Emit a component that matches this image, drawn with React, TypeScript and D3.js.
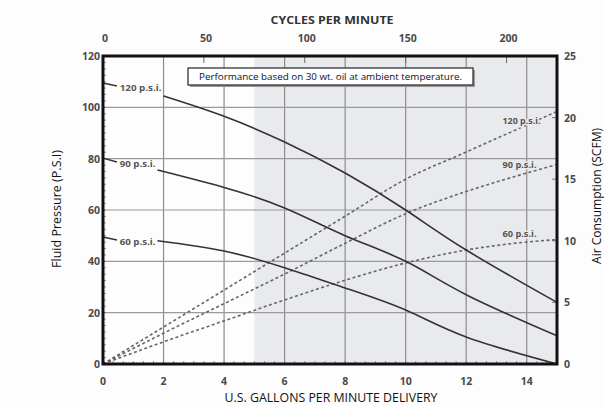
import React from 'react';
import * as d3 from 'd3';

// axis ticks
const gpmTicks = [0, 2, 4, 6, 8, 10, 12, 14];
const psiTicks = [0, 20, 40, 60, 80, 100, 120];
const scfmTicks = [0, 5, 10, 15, 20, 25];
const cycleTicks = [0, 50, 100, 150, 200];

// fluid pressure curves (solid)
const curveLabels = ['120 p.s.i.', '90 p.s.i.', '60 p.s.i.'];
const psi120Gpm = [2.0, 4, 6, 8, 10, 12, 15];
const psi120 = [104.4, 96.5, 86.5, 74.4, 60, 44.4, 24];
const psi90Gpm = [1.8, 4, 6, 8, 10, 12, 15];
const psi90 = [75.6, 68.8, 60.8, 50, 40, 27, 11];
const psi60Gpm = [1.8, 4, 6, 8, 10, 12, 15];
const psi60 = [48, 44, 37.5, 29.6, 21, 10.5, 0];
// short leader from the axis to each label
const leaderGpm = [0, 0.46];
const leader120 = [109.5, 108.3];
const leader90 = [80.2, 78.7];
const leader60 = [49.5, 48.3];

// air consumption (dotted), right axis
const airGpm = [0, 2, 4, 6, 8, 10, 12, 14, 15];
const air120 = [0, 3, 6, 9, 12, 15, 17.2, 19.4, 20.5];
const air90 = [0, 2.5, 4.9, 7.3, 9.8, 12.2, 14, 15.5, 16.2];
const air60 = [0, 1.8, 3.5, 5.2, 6.8, 8.2, 9.25, 9.9, 10.1];

const W = 605;
const H = 406;
const m = { left: 103, right: 557, top: 56, bottom: 364 };

export default function App() {
  const x = d3.scaleLinear().domain([0, 15]).range([m.left, m.right]);
  const yL = d3.scaleLinear().domain([0, 120]).range([m.bottom, m.top]);
  const yR = d3.scaleLinear().domain([0, 25]).range([m.bottom, m.top]);
  const xc = d3.scaleLinear().domain([0, 225]).range([m.left, m.right]);

  const psiLine = (g: number[], v: number[]) =>
    d3.line<number>().x((_, i) => x(g[i])).y(d => yL(d)).curve(d3.curveNatural)(v) || '';
  const airLine = (v: number[]) =>
    d3.line<number>().x((_, i) => x(airGpm[i])).y(d => yR(d)).curve(d3.curveMonotoneX)(v) || '';

  const solids = [
    { g: psi120Gpm, v: psi120, lead: leader120 },
    { g: psi90Gpm, v: psi90, lead: leader90 },
    { g: psi60Gpm, v: psi60, lead: leader60 },
  ];
  const airs = [air120, air90, air60];

  const tickFont = { fontFamily: '"Open Sans", sans-serif', fontWeight: 700, fontSize: 10.5, fill: '#4a4a4a' };
  const bottomMinor = d3.range(0, 226, 5);
  const leftMinor = d3.range(0, 121, 2.5);

  return (
    <svg width={W} height={H} style={{ position: 'absolute', left: 0, top: 0, background: '#fdfdfd' }}>
      {/* shaded region */}
      <rect x={x(5)} y={m.top} width={x(15) - x(5)} height={m.bottom - m.top} fill="#e9eaed" />

      {/* grid */}
      {gpmTicks.slice(1).map(t => (
        <line key={'gx' + t} x1={x(t)} x2={x(t)} y1={m.top} y2={m.bottom} stroke="#8c8c8c" strokeWidth={1.2} />
      ))}
      {psiTicks.slice(1, -1).map(t => (
        <line key={'gy' + t} x1={m.left} x2={m.right} y1={yL(t)} y2={yL(t)} stroke="#9a9a9a" strokeWidth={1.2} />
      ))}

      {/* minor ticks */}
      {bottomMinor.map(c => (
        <line key={'bm' + c} x1={xc(c)} x2={xc(c)} y1={m.bottom} y2={m.bottom - 3} stroke="#777" strokeWidth={0.8} />
      ))}
      {leftMinor.map(p => (
        <line key={'lm' + p} x1={m.left} x2={m.left + 3} y1={yL(p)} y2={yL(p)} stroke="#777" strokeWidth={0.8} />
      ))}
      {cycleTicks.map(c => (
        <line key={'tc' + c} x1={xc(c)} x2={xc(c)} y1={m.top} y2={m.top + 7} stroke="#666" strokeWidth={1} />
      ))}
      {scfmTicks.map(s => (
        <line key={'rt' + s} x1={m.right} x2={m.right - 5} y1={yR(s)} y2={yR(s)} stroke="#777" strokeWidth={1} />
      ))}

      {/* air consumption dotted lines */}
      {airs.map((a, i) => (
        <path key={'air' + i} d={airLine(a)} fill="none" stroke="#666" strokeWidth={1.6} strokeDasharray="3,2.5" />
      ))}

      {/* pressure curves */}
      {solids.map((s, i) => (
        <g key={'sol' + i}>
          <path d={psiLine(s.g, s.v)} fill="none" stroke="#333" strokeWidth={1.6} />
          <path d={psiLine(leaderGpm, s.lead)} fill="none" stroke="#333" strokeWidth={1.4} />
          <text
            x={x(0.55)}
            y={yL(s.lead[1]) + 5}
            style={{ fontFamily: '"Open Sans", sans-serif', fontWeight: 700, fontSize: 8, fill: '#555' }}
            textLength={i === 0 ? 42 : 36}
            lengthAdjust="spacingAndGlyphs"
          >
            {curveLabels[i]}
          </text>
        </g>
      ))}

      {/* air labels */}
      {airs.map((a, i) => (
        <text
          key={'al' + i}
          x={x(13.2)}
          y={yR(a[7]) - (i === 0 ? 1 : 5)}
          stroke="#e9eaed"
          strokeWidth={3}
          paintOrder="stroke"
          style={{ fontFamily: '"Open Sans", sans-serif', fontWeight: 700, fontSize: 8, fill: '#555' }}
          textLength={i === 0 ? 38 : 34}
          lengthAdjust="spacingAndGlyphs"
        >
          {curveLabels[i]}
        </text>
      ))}

      {/* frame */}
      <rect x={m.left} y={m.top} width={m.right - m.left} height={m.bottom - m.top} fill="none" stroke="#111" strokeWidth={3} />

      {/* note box */}
      <rect x={190} y={70} width={285} height={17} fill="#9a9a9a" />
      <rect x={188} y={68} width={285} height={17} fill="#fff" stroke="#333" strokeWidth={1.3} />
      <text x={330.5} y={80} textAnchor="middle" textLength={263} lengthAdjust="spacingAndGlyphs"
        style={{ fontFamily: '"Open Sans", sans-serif', fontSize: 9.5, fill: '#111' }}>
        Performance based on 30 wt. oil at ambient temperature.
      </text>

      {/* tick labels */}
      {gpmTicks.map(t => (
        <text key={'bx' + t} x={x(t)} y={385} textAnchor="middle" style={tickFont}>{t}</text>
      ))}
      {psiTicks.map(t => (
        <text key={'ly' + t} x={100} y={yL(t) + 4} textAnchor="end" style={tickFont}>{t}</text>
      ))}
      {scfmTicks.map(t => (
        <text key={'ry' + t} x={564} y={yR(t) + 4} textAnchor="start" style={tickFont}>{t}</text>
      ))}
      {cycleTicks.map(t => (
        <text key={'tx' + t} x={xc(t) + 2} y={42} textAnchor="middle" style={tickFont}>{t}</text>
      ))}

      {/* titles */}
      <text x={332} y={24} textAnchor="middle" textLength={123} lengthAdjust="spacingAndGlyphs"
        style={{ fontFamily: '"Open Sans", sans-serif', fontWeight: 700, fontSize: 10.5, fill: '#333' }}>
        CYCLES PER MINUTE
      </text>
      <text x={331} y={402} textAnchor="middle" textLength={213} lengthAdjust="spacingAndGlyphs"
        style={{ fontFamily: '"Open Sans", sans-serif', fontSize: 12.5, fill: '#111' }}>
        U.S. GALLONS PER MINUTE DELIVERY
      </text>
      <text transform="translate(61,209) rotate(-90)" textAnchor="middle" textLength={118} lengthAdjust="spacingAndGlyphs"
        style={{ fontFamily: '"Open Sans", sans-serif', fontSize: 12.5, fill: '#111' }}>
        Fluid Pressure (P.S.I)
      </text>
      <text transform="translate(601,196) rotate(-90)" textAnchor="middle" textLength={136} lengthAdjust="spacingAndGlyphs"
        style={{ fontFamily: '"Open Sans", sans-serif', fontSize: 12, fill: '#111' }}>
        Air Consumption (SCFM)
      </text>
    </svg>
  );
}
